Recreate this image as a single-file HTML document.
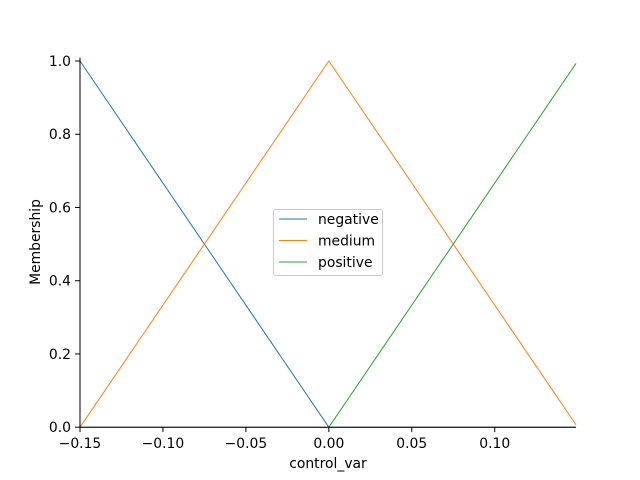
<!DOCTYPE html>
<html><head><meta charset="utf-8"><style>
body{margin:0;background:#fff}
svg{display:block;font-family:"DejaVu Sans","Liberation Sans",sans-serif}
</style></head><body>
<svg id="chart" width="640" height="480" viewBox="0 0 640 480"></svg>
<script>
const xTicks=[-0.15,-0.10,-0.05,0.00,0.05,0.10];
const xTickLabels=["\u22120.15","\u22120.10","\u22120.05","0.00","0.05","0.10"];
const yTicks=[0,0.2,0.4,0.6,0.8,1.0];
const yTickLabels=["0.0","0.2","0.4","0.6","0.8","1.0"];
const seriesNames=["negative","medium","positive"];
const negX=[-0.15,0.0,0.149];
const negY=[1.0,0.0,0.0];
const medX=[-0.15,0.0,0.149];
const medY=[0.0,1.0,0.0067];
const posX=[-0.15,0.0,0.149];
const posY=[0.0,0.0,0.9933];
const colors=["#1f77b4","#ff7f0e","#2ca02c"];
const L=80,R=576,T=57.6,B=427.2,xmin=-0.15,xmax=0.149,ymin=0,ymax=1.0093;
const sx=v=>L+(v-xmin)/(xmax-xmin)*(R-L);
const sy=v=>B-(v-ymin)/(ymax-ymin)*(B-T);
const svg=document.getElementById('chart');
const NS="http://www.w3.org/2000/svg";
const FS=13.9;
function mk(t,a,p){const e=document.createElementNS(NS,t);for(const k in a)e.setAttribute(k,a[k]);(p||svg).appendChild(e);return e;}
const xs=[negX,medX,posX],ys=[negY,medY,posY];
for(let i=0;i<3;i++){
 const pts=xs[i].map((x,j)=>sx(x).toFixed(2)+","+sy(ys[i][j]).toFixed(2)).join(" ");
 const pl=mk('polyline',{points:pts,fill:'none',stroke:colors[i],'stroke-width':1});
 
 
}
const sp1=mk('line',{x1:L,y1:B,x2:R,y2:B,stroke:'#000','stroke-width':1});

const sp2=mk('line',{x1:L,y1:T,x2:L,y2:B,stroke:'#000','stroke-width':1});

xTicks.forEach((v,i)=>{
 const x=sx(v);
 mk('line',{x1:x,y1:B,x2:x,y2:B+4.9,stroke:'#000','stroke-width':1});
 const t=mk('text',{x:x,y:B+21,'text-anchor':'middle','font-size':FS});
 t.textContent=xTickLabels[i];
 
});
yTicks.forEach((v,i)=>{
 const y=sy(v);
 mk('line',{x1:L,y1:y,x2:L-4.9,y2:y,stroke:'#000','stroke-width':1});
 const t=mk('text',{x:L-9,y:y+5,'text-anchor':'end','font-size':FS});
 t.textContent=yTickLabels[i];
 
});
const xt=mk('text',{x:(L+R)/2,y:468,'text-anchor':'middle','font-size':FS});xt.textContent="control_var";

const yt=mk('text',{x:0,y:0,'text-anchor':'middle','font-size':FS,transform:'translate(40,242) rotate(-90)'});yt.textContent="Membership";

const lg=mk('g',{});

mk('rect',{x:273.5,y:209.5,width:109,height:66,rx:2,fill:'#fff','fill-opacity':0.8,stroke:'#ccc','stroke-width':1},lg);
seriesNames.forEach((n,i)=>{
 const y=219+i*21.5;
 const g=mk('g',{},lg);
 
 mk('line',{x1:279,y1:y,x2:307,y2:y,stroke:colors[i],'stroke-width':1},g);
 const t=mk('text',{x:318,y:y+5,'font-size':FS},g);t.textContent=n;
});
</script>
</body></html>
